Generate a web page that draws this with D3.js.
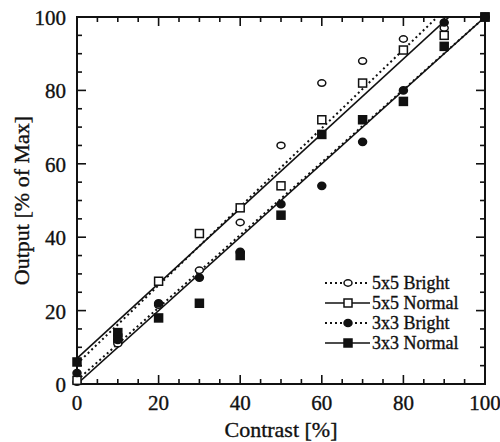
<!DOCTYPE html>
<html>
<head>
<meta charset="utf-8">
<script src="https://cdn.jsdelivr.net/npm/d3@7"></script>
<style>
  body { margin: 0; background: #fff; }
  svg text { font-family: "Liberation Serif", "DejaVu Serif", serif; fill: #111; stroke: #111; stroke-width: 0.35; }
</style>
</head>
<body>
<svg id="chart" width="500" height="442"></svg>
<script>
// values
const contrast = [0, 10, 20, 30, 40, 50, 60, 70, 80, 90, 100];
const bright5 = [0.5, 11, 21.5, 31, 44, 65, 82, 88, 94, 97, 100];
const normal5 = [1, 12.5, 28, 41, 48, 54, 72, 82, 91, 95, 100];
const bright3 = [3, 12, 22, 29, 36, 49, 54, 66, 80, 98.5, 100];
const normal3 = [6, 14, 18, 22, 35, 46, 68, 72, 77, 92, 100];

const seriesNames = ['5x5 Bright', '5x5 Normal', '3x3 Bright', '3x3 Normal'];
const fitIntercept = [5.5, 7, 1, 0];
const fitSlope = [1.07, 1.02, 0.99, 1.0];

const xTicks = [0, 20, 40, 60, 80, 100];
const yTicks = [0, 20, 40, 60, 80, 100];

const series = [
    {name: seriesNames[0], values: bright5, marker: 'circle', filled: false, dash: '2,3'},
    {name: seriesNames[1], values: normal5, marker: 'square', filled: false, dash: null},
    {name: seriesNames[2], values: bright3, marker: 'circle', filled: true, dash: '2,3'},
    {name: seriesNames[3], values: normal3, marker: 'square', filled: true, dash: null}
];

const svg = d3.select('#chart');
const pLeft = 77, pRight = 485, pTop = 17, pBottom = 384;

let x = d3.scaleLinear().domain([0, 100]).range([pLeft, pRight]);
let y = d3.scaleLinear().domain([0, 100]).range([pBottom, pTop]);

svg.append('clipPath').attr('id', 'plot')
    .append('rect')
    .attr('x', pLeft).attr('y', pTop)
    .attr('width', pRight - pLeft).attr('height', pBottom - pTop);

// ticks, inward on all four sides
const minor = d3.range(0, 101, 5);
function ticks(pos, sign, horizontal) {
    let g = svg.append('g');
    g.selectAll('line')
        .data(minor)
        .enter()
        .append('line')
        .attr('x1', d => horizontal ? x(d) : pos)
        .attr('x2', d => horizontal ? x(d) : pos + sign * (d % 20 === 0 ? 9 : 5))
        .attr('y1', d => horizontal ? pos : y(d))
        .attr('y2', d => horizontal ? pos + sign * (d % 20 === 0 ? 9 : 5) : y(d))
        .attr('stroke', '#111')
        .attr('stroke-width', 1.6);
}
ticks(pBottom, -1, true);
ticks(pTop, 1, true);
ticks(pLeft, 1, false);
ticks(pRight, -1, false);

svg.append('rect')
    .attr('x', pLeft).attr('y', pTop)
    .attr('width', pRight - pLeft).attr('height', pBottom - pTop)
    .attr('fill', 'none')
    .attr('stroke', '#111')
    .attr('stroke-width', 2);

svg.append('g').selectAll('text')
    .data(xTicks)
    .enter()
    .append('text')
    .attr('x', d => x(d))
    .attr('y', pBottom + 26)
    .attr('text-anchor', 'middle')
    .attr('font-size', 21)
    .text(d => d);

svg.append('g').selectAll('text')
    .data(yTicks)
    .enter()
    .append('text')
    .attr('x', 66)
    .attr('y', d => y(d) + 8)
    .attr('text-anchor', 'end')
    .attr('font-size', 21)
    .text(d => d);

svg.append('text')
    .attr('x', (pLeft + pRight) / 2)
    .attr('y', 437)
    .attr('text-anchor', 'middle')
    .attr('font-size', 22)
    .text('Contrast [%]');

svg.append('text')
    .attr('transform', 'translate(29,' + (pTop + pBottom) / 2 + ') rotate(-90)')
    .attr('text-anchor', 'middle')
    .attr('font-size', 22)
    .text('Output [% of Max]');

// fitted lines
let fits = svg.append('g').attr('clip-path', 'url(#plot)');
series.forEach((s, i) => {
    fits.append('line')
        .attr('x1', x(0)).attr('y1', y(fitIntercept[i]))
        .attr('x2', x(100)).attr('y2', y(fitIntercept[i] + 100 * fitSlope[i]))
        .attr('stroke', '#111')
        .attr('stroke-width', s.dash ? 2 : 1.6)
        .attr('stroke-dasharray', s.dash);
});

function drawMarker(g, s, cx, cy) {
    if (s.marker === 'circle') {
        g.append('ellipse')
            .attr('cx', cx).attr('cy', cy)
            .attr('rx', 4).attr('ry', s.filled ? 3.6 : 3.2)
            .attr('fill', s.filled ? '#111' : '#fff')
            .attr('stroke', '#111')
            .attr('stroke-width', 1.5);
    } else {
        g.append('rect')
            .attr('x', cx - 4).attr('y', cy - 4)
            .attr('width', 8).attr('height', 8)
            .attr('fill', s.filled ? '#111' : '#fff')
            .attr('stroke', '#111')
            .attr('stroke-width', 1.5);
    }
}

let points = svg.append('g');
series.forEach(s => {
    s.values.forEach((v, j) => drawMarker(points, s, x(contrast[j]), y(v)));
});

// legend
const legendY = [283, 303, 323, 343];
let legend = svg.append('g');
series.forEach((s, i) => {
    legend.append('line')
        .attr('x1', 325).attr('x2', 370)
        .attr('y1', legendY[i]).attr('y2', legendY[i])
        .attr('stroke', '#111')
        .attr('stroke-width', s.dash ? 2 : 1.6)
        .attr('stroke-dasharray', s.dash);
    drawMarker(legend, s, 348, legendY[i]);
    legend.append('text')
        .attr('x', 372)
        .attr('y', legendY[i] + 6)
        .attr('font-size', 18)
        .text(s.name);
});
</script>
</body>
</html>
